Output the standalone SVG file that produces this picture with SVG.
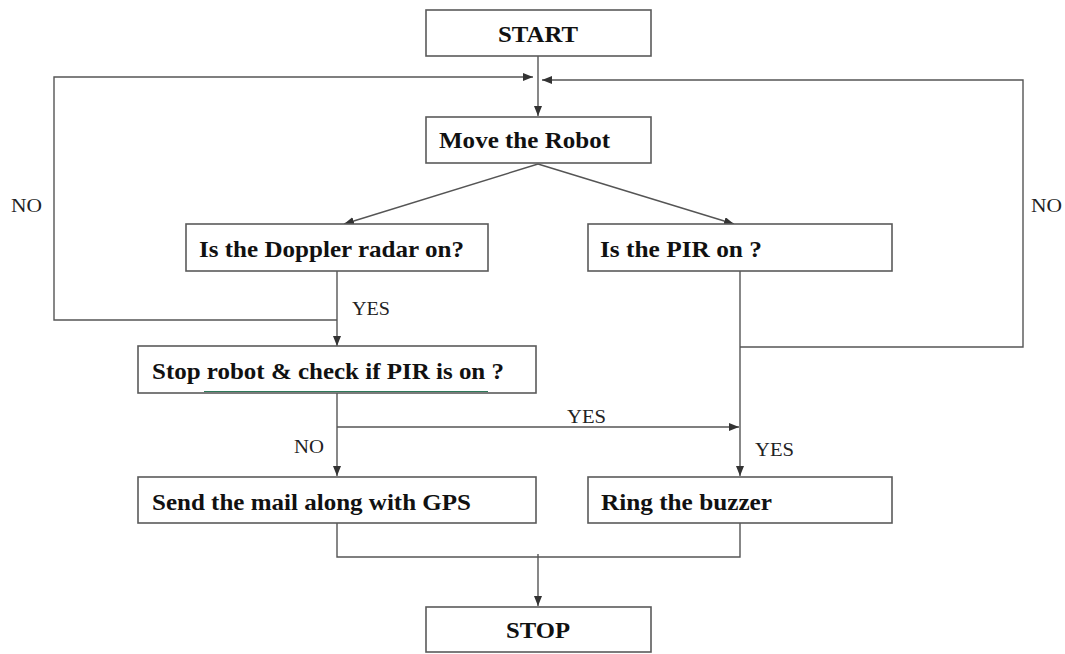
<svg xmlns="http://www.w3.org/2000/svg" width="1065" height="654" viewBox="0 0 1065 654">
<style>
.box{fill:#fff;stroke:#5a5a5a;stroke-width:1.6}
.t{font-family:"Liberation Serif","Times New Roman",serif;font-weight:bold;font-size:22.5px;fill:#111}
.lbl{font-family:"Liberation Serif","Times New Roman",serif;font-size:19.5px;fill:#222}
.c{fill:none;stroke:#555;stroke-width:1.4}
</style>
<defs>
<marker id="ah" viewBox="0 0 10 8" refX="10" refY="4" markerWidth="10" markerHeight="8" markerUnits="userSpaceOnUse" orient="auto">
<path d="M0,0 L10,4 L0,8 Z" fill="#333"/>
</marker>
</defs>
<rect width="1065" height="654" fill="#fff"/>
<g id="connectors">
<path class="c" d="M538,56 V116" marker-end="url(#ah)"/>
<path class="c" d="M337,320 H54 V77 H533" marker-end="url(#ah)"/>
<path class="c" d="M740,347 H1023 V80 H542" marker-end="url(#ah)"/>
<path class="c" d="M538,164 L344,224" marker-end="url(#ah)"/>
<path class="c" d="M538,164 L734,224" marker-end="url(#ah)"/>
<path class="c" d="M337,271 V346" marker-end="url(#ah)"/>
<path class="c" d="M337,393 V476" marker-end="url(#ah)"/>
<path class="c" d="M337,427 H739" marker-end="url(#ah)"/>
<path class="c" d="M740,271 V476" marker-end="url(#ah)"/>
<path class="c" d="M337,523 V557 H740 V523"/>
<path class="c" d="M538,554 V606" marker-end="url(#ah)"/>
<text class="lbl" x="11" y="212" textLength="31" lengthAdjust="spacingAndGlyphs">NO</text>
<text class="lbl" x="1031" y="212" textLength="31" lengthAdjust="spacingAndGlyphs">NO</text>
<text class="lbl" x="352" y="315" textLength="38" lengthAdjust="spacingAndGlyphs">YES</text>
<text class="lbl" x="567" y="423" textLength="39" lengthAdjust="spacingAndGlyphs">YES</text>
<text class="lbl" x="755" y="456" textLength="39" lengthAdjust="spacingAndGlyphs">YES</text>
<text class="lbl" x="294" y="453" textLength="30" lengthAdjust="spacingAndGlyphs">NO</text>
</g>
<g id="start">
<rect class="box" x="426" y="10" width="225" height="46"/>
<text class="t" x="498" y="42" textLength="80" lengthAdjust="spacingAndGlyphs">START</text>
</g>
<g id="move">
<rect class="box" x="426" y="117" width="225" height="46"/>
<text class="t" x="439" y="148" textLength="171" lengthAdjust="spacingAndGlyphs">Move the Robot</text>
</g>
<g id="doppler">
<rect class="box" x="186" y="224" width="302" height="47"/>
<text class="t" x="199" y="257" textLength="265" lengthAdjust="spacingAndGlyphs">Is the Doppler radar on?</text>
</g>
<g id="pir">
<rect class="box" x="588" y="224" width="304" height="47"/>
<text class="t" x="600" y="257" textLength="162" lengthAdjust="spacingAndGlyphs">Is the PIR on ?</text>
</g>
<g id="stoprobot">
<rect class="box" x="138" y="346" width="398" height="47"/>
<text class="t" x="152" y="379" textLength="352" lengthAdjust="spacingAndGlyphs">Stop robot &amp; check if PIR is on ?</text>
<line x1="204" y1="391.5" x2="488" y2="391.5" stroke="#2f7a5a" stroke-width="1.2"/>
</g>
<g id="sendmail">
<rect class="box" x="138" y="477" width="398" height="46"/>
<text class="t" x="152" y="510" textLength="319" lengthAdjust="spacingAndGlyphs">Send the mail along with GPS</text>
</g>
<g id="buzzer">
<rect class="box" x="588" y="477" width="304" height="46"/>
<text class="t" x="601" y="510" textLength="171" lengthAdjust="spacingAndGlyphs">Ring the buzzer</text>
</g>
<g id="stop">
<rect class="box" x="426" y="607" width="225" height="45"/>
<text class="t" x="506" y="638" textLength="64" lengthAdjust="spacingAndGlyphs">STOP</text>
</g>
</svg>
